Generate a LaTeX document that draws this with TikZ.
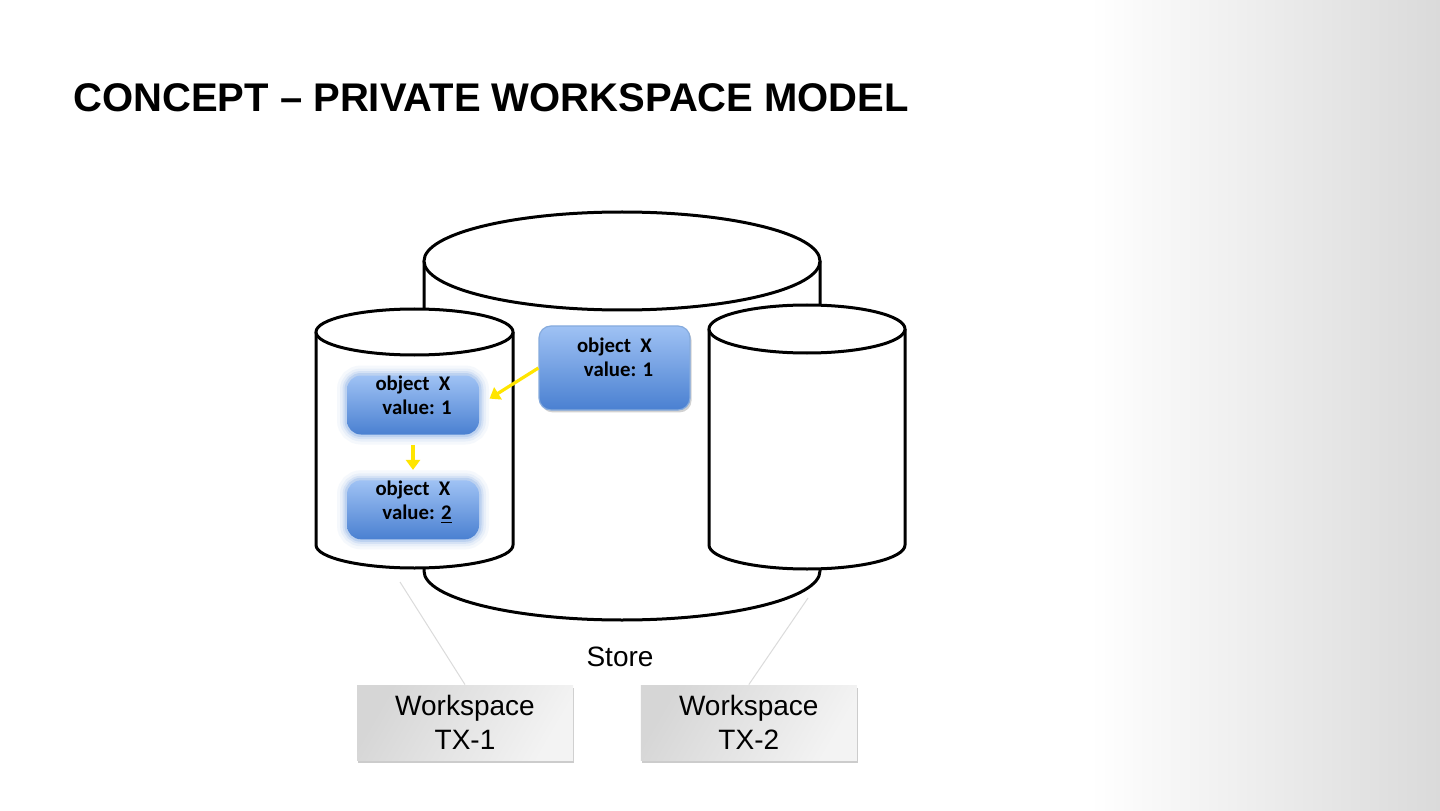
\documentclass[tikz,border=0pt]{standalone}
\usepackage{fontspec}
\setmainfont{Liberation Sans}
\newfontfamily\boxfont{Carlito}
\usetikzlibrary{positioning,arrows.meta,shadows}

\definecolor{bluetop}{HTML}{9FC2F4}
\definecolor{bluebot}{HTML}{4A80D1}
\definecolor{blueglow}{HTML}{78A3E2}
\definecolor{blueedge}{HTML}{86ABDD}
\definecolor{arrowyellow}{HTML}{FFE500}
\definecolor{wsdark}{HTML}{D6D6D6}
\definecolor{wslight}{HTML}{F3F3F3}
\definecolor{bggray}{HTML}{DADADA}

% cylinder: centre x, top y, bottom y, x radius, y radius
\newcommand{\drum}[5]{%
  \draw[drumline] (#1-#4,#2) -- (#1-#4,#3)
    arc [start angle=180, end angle=360, x radius=#4, y radius=#5]
    -- (#1+#4,#2);
  \draw[drumline] (#1,#2) ellipse [x radius=#4, y radius=#5];}

\tikzset{
  drumline/.style={draw=black, line width=1.5pt, fill=white},
  objbox/.style={rounded corners=6pt, top color=bluetop, bottom color=bluebot,
    align=center, inner sep=0pt, minimum width=70pt, minimum height=33pt,
    font=\boxfont\fontsize{10.4}{12}\selectfont\bfseries},
  blurbox/.style={objbox, minimum width=66pt, minimum height=29.5pt,
    rounded corners=7pt,
    preaction={draw=blueglow, draw opacity=.07, line width=10pt},
    preaction={draw=blueglow, draw opacity=.10, line width=7pt},
    preaction={draw=blueglow, draw opacity=.16, line width=4.5pt},
    preaction={draw=blueglow, draw opacity=.25, line width=2.5pt}},
  loosebox/.style={objbox, draw=blueedge, line width=0.6pt,
    minimum width=75.5pt, minimum height=42pt,
    drop shadow={shadow xshift=0.8pt, shadow yshift=-1.2pt, opacity=.35}},
  yarrow/.style={draw=arrowyellow, line width=1.6pt,
    -{Triangle[length=5pt, width=7pt]}},
  wsbox/.style={left color=wsdark, right color=wslight, shading angle=60,
    align=center, inner sep=0pt, minimum width=108pt, minimum height=37.5pt,
    font=\fontsize{14}{17}\selectfont,
    drop shadow={shadow xshift=0.6pt, shadow yshift=-1.4pt, opacity=.4}},
  feeder/.style={draw=black!14, line width=0.5pt}
}

\begin{document}
\begin{tikzpicture}[x=0.5pt, y=0.5pt]
  % page and side shading
  \useasboundingbox (0,0) rectangle (1440,810);
  \fill[white] (0,0) rectangle (1440,810);
  \shade[left color=white, right color=bggray] (1090,0) rectangle (1440,810);

  \node[anchor=base west, inner sep=0pt, font=\fontsize{20}{22}\selectfont\bfseries]
    (title) at (73,698) {CONCEPT -- PRIVATE WORKSPACE MODEL};

  % store and workspaces
  \drum{622}{549}{239}{198}{49}
  \drum{414.5}{478}{265}{98.5}{23}
  \drum{807}{481}{265}{98}{24}

  \node (store) at (620,153) {\fontsize{14}{17}\selectfont Store};

  \node[wsbox] (ws1) at (465,87.5) {Workspace\\TX-1};
  \node[wsbox, right=33.5pt of ws1] (ws2) {Workspace\\TX-2};

  \coordinate (tail1) at (400,228);
  \coordinate (tail2) at (808,212);
  \draw[feeder] (tail1) -- (ws1.north);
  \draw[feeder] (tail2) -- (ws2.north);

  % objects
  \node[loosebox] (objS) at (614.5,442)
    {object\ \ X\\\hspace*{4pt}value: 1\\[-1pt]\mbox{}};
  \node[blurbox] (objA) at (413,405)
    {object\ \ X\\\hspace*{4pt}value: 1\\[-2.5pt]\mbox{}};
  \node[blurbox, below=22.5pt of objA] (objB)
    {object\ \ X\\\hspace*{4pt}value: \underline{2}\\[-2.5pt]\mbox{}};

  \draw[yarrow, shorten >=6pt] (objS.west) -- (objA.east);
  \draw[yarrow, shorten <=5pt, shorten >=5pt] (objA.south) -- (objB.north);
\end{tikzpicture}
\end{document}
